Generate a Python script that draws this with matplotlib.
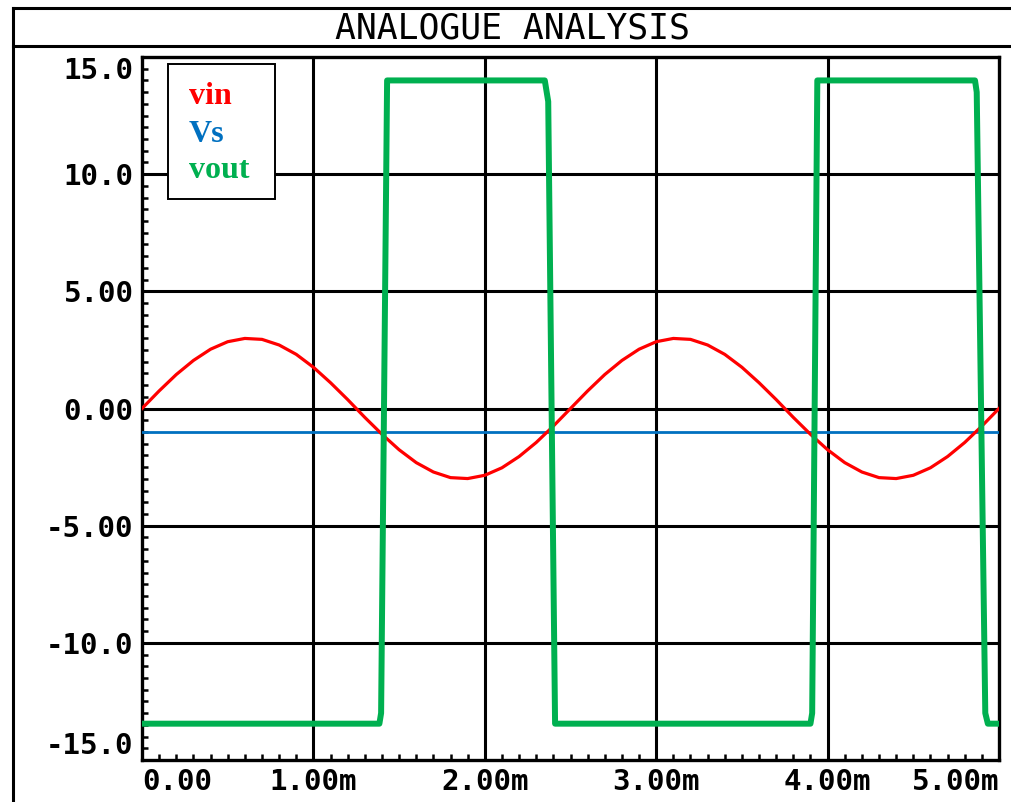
import matplotlib.pyplot as plt
from matplotlib.lines import Line2D
from matplotlib.patches import Rectangle
from matplotlib.ticker import MultipleLocator

# %% Data (time in ms, volts)
t_in = [0.0, 0.1, 0.2, 0.3, 0.4, 0.5, 0.6, 0.7, 0.8, 0.9,
        1.0, 1.1, 1.2, 1.3, 1.4, 1.5, 1.6, 1.7, 1.8, 1.9,
        2.0, 2.1, 2.2, 2.3, 2.4, 2.5, 2.6, 2.7, 2.8, 2.9,
        3.0, 3.1, 3.2, 3.3, 3.4, 3.5, 3.6, 3.7, 3.8, 3.9,
        4.0, 4.1, 4.2, 4.3, 4.4, 4.5, 4.6, 4.7, 4.8, 4.9, 5.0]
vin = [0.0, 0.75, 1.45, 2.05, 2.53, 2.85, 2.99, 2.95, 2.71, 2.31,
       1.76, 1.10, 0.38, -0.38, -1.10, -1.76, -2.31, -2.71, -2.95, -2.99,
       -2.85, -2.53, -2.05, -1.45, -0.75, 0.0, 0.75, 1.45, 2.05, 2.53,
       2.85, 2.99, 2.95, 2.71, 2.31, 1.76, 1.10, 0.38, -0.38, -1.10,
       -1.76, -2.31, -2.71, -2.95, -2.99, -2.85, -2.53, -2.05, -1.45, -0.75, 0.0]

t_vs = [0.0, 5.0]
vs = [-1.0, -1.0]

t_out = [0.0, 1.385, 1.395, 1.43, 2.35, 2.37, 2.41, 3.90, 3.91, 3.94,
         4.86, 4.87, 4.92, 4.935, 5.0]
vout = [-13.45, -13.45, -13.0, 14.0, 14.0, 13.1, -13.45, -13.45, -13.0, 14.0,
        14.0, 13.5, -13.0, -13.45, -13.45]

xticks = [0, 1, 2, 3, 4, 5]
xlabels = ['0.00', '1.00m', '2.00m', '3.00m', '4.00m', '5.00m']
yticks = [15, 10, 5, 0, -5, -10, -15]
ylabels = ['15.0', '10.0', '5.00', '0.00', '-5.00', '-10.0', '-15.0']

names = ['vin', 'Vs', 'vout']
colors = ['#ff0000', '#0070c0', '#00b050']

# %% Figure
W, H = 1011, 802
fig = plt.figure(figsize=(W / 100, H / 100), dpi=100)
ax = fig.add_axes([142 / W, (H - 760) / H, (999 - 142) / W, (760 - 57) / H])

ax.plot(t_in, vin, color=colors[0], lw=2.3, zorder=4)
ax.plot(t_vs, vs, color=colors[1], lw=2.0, zorder=3)
ax.plot(t_out, vout, color=colors[2], lw=4.3, zorder=5,
        solid_joinstyle='round')

ax.set_xlim(0, 5)
ax.set_ylim(-15, 15)
ax.set_xticks(xticks)
ax.set_xticklabels(xlabels)
ax.set_yticks(yticks)
ax.set_yticklabels(ylabels)
ax.xaxis.set_minor_locator(MultipleLocator(0.1))
ax.yaxis.set_minor_locator(MultipleLocator(0.5))
ax.tick_params(which='major', length=0, pad=6, labelsize=21)
ax.tick_params(which='minor', direction='in', length=4, width=1.8,
               color='black')
for lab in ax.get_xticklabels() + ax.get_yticklabels():
    lab.set_family('DejaVu Sans Mono')
    lab.set_weight('bold')
xl = ax.get_xticklabels()
xl[0].set_ha('left')
xl[-1].set_ha('right')
yl = ax.get_yticklabels()
yl[0].set_va('top')
yl[-1].set_va('bottom')

for v in [-10, -5, 0, 5, 10]:
    ax.axhline(v, color='black', lw=2.2, zorder=2)
for v in [1, 2, 3, 4]:
    ax.axvline(v, color='black', lw=2.2, zorder=2)
for s in ax.spines.values():
    s.set_linewidth(2.4)

# legend box
ax.add_patch(Rectangle(((168 - 142) / (999 - 142), (760 - 199) / (760 - 57)),
                       (275 - 168) / (999 - 142), (199 - 64) / (760 - 57),
                       transform=ax.transAxes, facecolor='white',
                       edgecolor='black', lw=1.4, zorder=6))
for i, (n, c) in enumerate(zip(names, colors)):
    fig.text(189 / W, 1 - (97 + 37 * i) / H, n, color=c, fontsize=23,
             family='Liberation Serif', weight='bold', va='center',
             ha='left', zorder=7)

# outer frame and title
frame = dict(color='black', lw=2.2, transform=fig.transFigure)
fig.add_artist(Line2D([13 / W, 13 / W], [0, 1 - 8 / H], **frame))
fig.add_artist(Line2D([13 / W, 1], [1 - 8 / H, 1 - 8 / H], **frame))
fig.add_artist(Line2D([13 / W, 1], [1 - 46 / H, 1 - 46 / H], **frame))
fig.text(512 / W, 1 - 25 / H, 'ANALOGUE ANALYSIS', fontsize=25,
         family='DejaVu Sans Mono', ha='center', va='center_baseline')

fig.savefig('out.png', dpi=100, facecolor='white')
